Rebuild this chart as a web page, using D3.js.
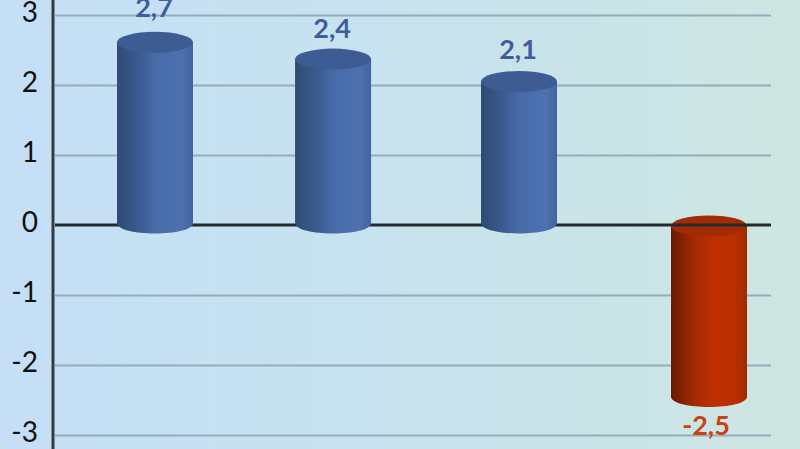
<!DOCTYPE html>
<html><head><meta charset="utf-8">
<script src="https://cdnjs.cloudflare.com/ajax/libs/d3/7.8.5/d3.min.js"></script>
<style>html,body{margin:0;padding:0;overflow:hidden;background:#c8e2f4}svg{display:block}text{font-family:Lato,"Open Sans",sans-serif}</style>
</head><body><svg id="c" width="800" height="449"></svg>
<script>
const tickValues = [3, 2, 1, 0, -1, -2, -3];
const categories = ["A", "B", "C", "D"];
const categoryPositions = [0, 0.973, 1.989, 3.027];
const drawnValues = [2.61, 2.37, 2.05, -2.45];
const labelValues = [2.7, 2.4, 2.1, -2.5];

const W = 800, H = 449;
const svg = d3.select("#c");
const y = d3.scaleLinear().domain([3, -3]).range([15, 435]);
const x = d3.scaleLinear().domain([0, 3.027]).range([155, 709]);
const rx = 38, ry = 10.5;
const zeroFoot = 1;

const defs = svg.append("defs");
const bg = defs.append("linearGradient").attr("id", "bg");
[[0, "#c4dff6"], [0.4, "#c6e2f0"], [0.7, "#c9e3e9"], [1, "#cee6e1"]].forEach(s =>
  bg.append("stop").attr("offset", s[0]).attr("stop-color", s[1]));
function cyl(id, stops) {
  const g = defs.append("linearGradient").attr("id", id);
  stops.forEach(s => g.append("stop").attr("offset", s[0]).attr("stop-color", s[1]));
}
cyl("blue", [[0, "#2f4a75"], [0.3, "#3b5b90"], [0.5, "#476ba8"], [0.85, "#4e72af"], [1, "#42649f"]]);
cyl("red", [[0, "#6a1a02"], [0.3, "#a02a02"], [0.55, "#be3000"], [0.85, "#b82f00"], [1, "#a32900"]]);

svg.append("rect").attr("width", W).attr("height", H).attr("fill", "url(#bg)");

const grid = d3.axisRight(y).tickValues(tickValues.filter(d => d !== 0)).tickSize(716).tickFormat("");
svg.append("g").attr("transform", "translate(55,0)").call(grid)
  .call(g => g.select(".domain").remove())
  .call(g => g.selectAll("line").attr("stroke", "#93adba").attr("stroke-width", 1.8));

const data = categories.map((c, i) => ({c, pos: categoryPositions[i], v: drawnValues[i], lv: labelValues[i]}));

function drawBar(sel) {
  sel.each(function (d) {
    const g = d3.select(this), cx = x(d.pos), neg = d.v < 0;
    const top = neg ? y(0) + zeroFoot : y(d.v);
    const bot = neg ? y(d.v) : y(0) - 2;
    const fill = neg ? "url(#red)" : "url(#blue)";
    const path = d3.path();
    path.moveTo(cx - rx, top);
    path.lineTo(cx - rx, bot);
    path.bezierCurveTo(cx - rx, bot + ry * 1.33, cx + rx, bot + ry * 1.33, cx + rx, bot);
    path.lineTo(cx + rx, top);
    path.closePath();
    g.append("path").attr("d", path.toString()).attr("fill", fill);
    g.append("ellipse").attr("cx", cx).attr("cy", top).attr("rx", rx).attr("ry", ry)
      .attr("fill", neg ? "#a32b04" : "#3d5c94");
  });
}

svg.append("g").selectAll("g").data(data.filter(d => d.v < 0)).join("g").call(drawBar);

svg.append("line").attr("x1", 55).attr("x2", 771).attr("y1", y(0)).attr("y2", y(0))
  .attr("stroke", "#222a2e").attr("stroke-width", 3);

svg.append("g").selectAll("g").data(data.filter(d => d.v >= 0)).join("g").call(drawBar);

const axis = d3.axisLeft(y).tickValues(tickValues).tickSize(0).tickPadding(15).tickFormat(d => d < 0 ? "-" + Math.abs(d) : d);
svg.append("g").attr("transform", "translate(53,-2)").call(axis)
  .call(g => g.select(".domain").remove())
  .call(g => g.selectAll("text").attr("font-size", 28).attr("fill", "#111").attr("font-family", "Lato"));
svg.append("line").attr("x1", 53).attr("x2", 53).attr("y1", 0).attr("y2", H)
  .attr("stroke", "#36393d").attr("stroke-width", 3);

svg.append("g").selectAll("text").data(data).join("text")
  .attr("x", d => x(d.pos) - (d.v < 0 ? 3 : 1))
  .attr("y", d => d.lv < 0 ? y(d.lv) + 35 : y(d.lv) - 19)
  .attr("text-anchor", "middle").attr("font-size", 27).attr("font-weight", 700)
  .attr("fill", d => d.v < 0 ? "#cc4112" : "#415c9b")
  .text(d => String(d.lv).replace(".", ","));
</script></body></html>
